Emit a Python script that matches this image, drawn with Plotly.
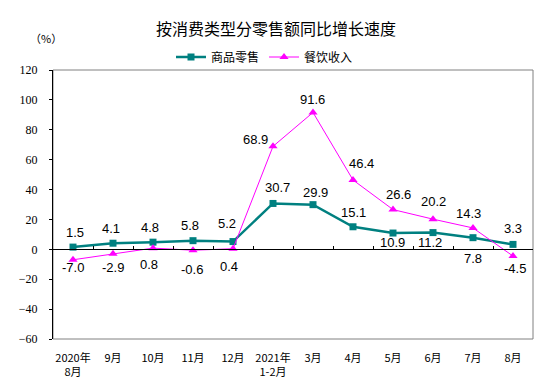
import plotly.graph_objects as go

categories = ["2020年<br>8月", "9月", "10月", "11月", "12月", "2021年<br>1-2月",
              "3月", "4月", "5月", "6月", "7月", "8月"]
goods = [1.5, 4.1, 4.8, 5.8, 5.2, 30.7, 29.9, 15.1, 10.9, 11.2, 7.8, 3.3]
catering = [-7.0, -2.9, 0.8, -0.6, 0.4, 68.9, 91.6, 46.4, 26.6, 20.2, 14.3, -4.5]
y_ticks = [-60, -40, -20, 0, 20, 40, 60, 80, 100, 120]

# label offsets in px (dx, dy)
goods_off = [(2, 15), (-2, 15), (-3, 15), (-3, 15), (-6, 18), (4, 16),
             (2, 12), (0, 14), (-1, -9), (-3, -10), (0, -21), (0, 16)]
cat_off = [(0, -8), (0, -14), (-4, -16), (-1, -19), (-4, -18), (-18, 7),
           (-1, 13), (8, 16), (5, 15), (0, 18), (-5, 14), (2, -12)]

TEAL = "#008080"
MAGENTA = "#FF00FF"

fig = go.Figure()
fig.add_trace(go.Scatter(
    x=categories, y=goods, name="商品零售", mode="lines+markers",
    line=dict(color=TEAL, width=2.5),
    marker=dict(symbol="square", size=7, color=TEAL),
))
fig.add_trace(go.Scatter(
    x=categories, y=catering, name="餐饮收入", mode="lines+markers",
    line=dict(color=MAGENTA, width=1),
    marker=dict(symbol="triangle-up", size=8, color=MAGENTA),
))
# helper trace for the zero-line axis
fig.add_trace(go.Scatter(
    x=categories, y=[None] * len(categories), xaxis="x2", showlegend=False,
    hoverinfo="skip", mode="lines",
))

annotations = []
for i, c in enumerate(categories):
    dx, dy = goods_off[i]
    annotations.append(dict(x=c, y=goods[i], text=f"{goods[i]:.1f}", showarrow=False,
                            xshift=dx, yshift=dy,
                            font=dict(family="Liberation Sans, Arial", size=13, color="black")))
    dx, dy = cat_off[i]
    annotations.append(dict(x=c, y=catering[i], text=f"{catering[i]:.1f}", showarrow=False,
                            xshift=dx, yshift=dy,
                            font=dict(family="Liberation Sans, Arial", size=13, color="black")))

annotations.append(dict(xref="paper", yref="paper", x=(46 - 53) / 480, y=(339 - 38) / 269,
                        text="（%）", showarrow=False, xanchor="center", yanchor="middle",
                        font=dict(family="Noto Sans CJK SC", size=11, color="black")))

fig.update_layout(
    width=551, height=387,
    margin=dict(l=53, r=18, t=70, b=48, autoexpand=False),
    paper_bgcolor="white", plot_bgcolor="white",
    title=dict(text="按消费类型分零售额同比增长速度", x=(276 - 53) / 480,
               xref="paper", xanchor="center", y=1 - 29 / 387, yanchor="middle",
               font=dict(family="Noto Sans CJK SC", size=16, color="black")),
    showlegend=True,
    legend=dict(orientation="h", x=(171 - 53) / 480, xanchor="left",
                y=(339 - 57) / 269, yanchor="middle",
                font=dict(family="Noto Sans CJK SC", size=12, color="black"),
                bgcolor="rgba(0,0,0,0)", itemwidth=30),
    xaxis=dict(type="category", categoryorder="array", categoryarray=categories,
               range=[-0.5, len(categories) - 0.5], showgrid=False, zeroline=False,
               showline=False, ticks="", ticklabelstandoff=11, automargin=False,
               tickfont=dict(family="Noto Sans CJK SC", size=11, color="black")),
    xaxis2=dict(type="category", categoryorder="array", categoryarray=categories,
                range=[-0.5, len(categories) - 0.5], overlaying="x", anchor="free",
                position=60 / 180, showline=True, linecolor="black", linewidth=1,
                ticks="inside", ticklen=3, tickcolor="black", tickson="boundaries",
                showticklabels=False, showgrid=False, zeroline=False),
    yaxis=dict(range=[-60, 120], tickvals=y_ticks, showgrid=False, zeroline=False,
               showline=True, linecolor="black", linewidth=1, ticks="outside",
               ticklen=3, tickcolor="black", ticklabelstandoff=9, automargin=False,
               tickfont=dict(family="Liberation Serif, Times New Roman", size=12, color="black")),
    shapes=[dict(type="rect", xref="paper", yref="paper", x0=0, x1=1, y0=0, y1=1,
                 line=dict(color="#808080", width=1), layer="below")],
    annotations=annotations,
)

fig.write_html("out.html", post_script="document.body.style.margin='0';",
               config={"displayModeBar": False})
